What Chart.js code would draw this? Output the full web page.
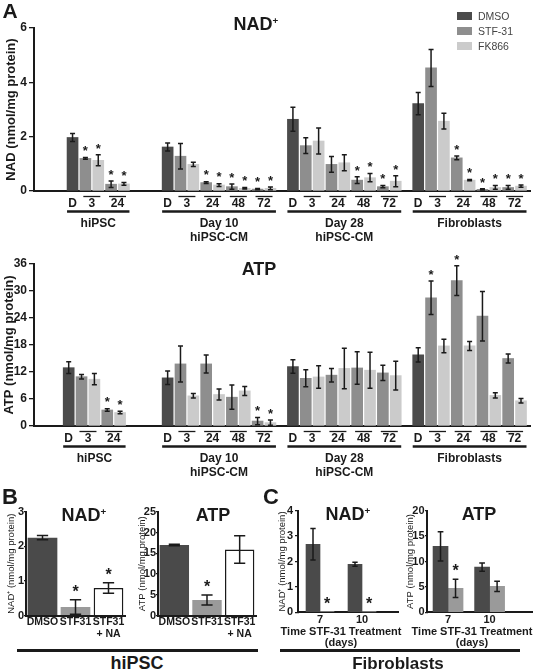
<!DOCTYPE html>
<html>
<head>
<meta charset="utf-8">
<script src="https://cdn.jsdelivr.net/npm/chart.js@4.4.0/dist/chart.umd.min.js"></script>
<style>
  body { margin: 0; background: #fff; font-family: "Liberation Sans", Arial, sans-serif; color: #1a1a1a; }
  #fig { position: relative; width: 535px; height: 670px; overflow: hidden; }
  canvas { position: absolute; }
  .c { position: absolute; transform: translate(-50%, -50%); font-weight: bold; white-space: nowrap; line-height: 1; }
  .sup { font-size: 0.55em; position: relative; top: -0.65em; }
  .rule { position: absolute; height: 3px; background: #1a1a1a; }
  .lg { position: absolute; left: 457px; height: 8px; font-size: 10.5px; color: #444; display: flex; align-items: center; white-space: nowrap; }
  .lg i { display: inline-block; width: 15px; height: 8px; margin-right: 6px; }
</style>
</head>
<body>
<div id="fig">
  <canvas id="aNad" width="535" height="250" style="left:0;top:0"></canvas>
  <canvas id="aAtp" width="535" height="240" style="left:0;top:250px"></canvas>
  <canvas id="bNad" width="130" height="146" style="left:0;top:500px"></canvas>
  <canvas id="bAtp" width="130" height="146" style="left:130px;top:500px"></canvas>
  <canvas id="cNad" width="130" height="127" style="left:270px;top:500px"></canvas>
  <canvas id="cAtp" width="135" height="127" style="left:400px;top:500px"></canvas>

  <div class="c" style="left:10px;top:10px;font-size:21px">A</div>
  <div class="c" style="left:256px;top:24px;font-size:18px">NAD<span class="sup">+</span></div>
  <div class="c" style="left:259px;top:269px;font-size:18px">ATP</div>
  <div class="lg" style="top:11.5px"><i style="background:#4b4b4b"></i>DMSO</div>
  <div class="lg" style="top:26.5px"><i style="background:#8e8e8e"></i>STF-31</div>
  <div class="lg" style="top:41.5px"><i style="background:#cbcbcb"></i>FK866</div>

  <div class="c" style="left:10px;top:497px;font-size:22px">B</div>
  <div class="c" style="left:84px;top:515px;font-size:18px">NAD<span class="sup">+</span></div>
  <div class="c" style="left:213px;top:515px;font-size:18px">ATP</div>
  <div class="rule" style="left:17px;width:241px;top:649px"></div>
  <div class="c" style="left:137px;top:663px;font-size:18px">hiPSC</div>

  <div class="c" style="left:271px;top:497px;font-size:22px">C</div>
  <div class="c" style="left:348px;top:514px;font-size:18px">NAD<span class="sup">+</span></div>
  <div class="c" style="left:479px;top:514px;font-size:18px">ATP</div>
  <div class="c" style="left:341px;top:631px;font-size:11px">Time STF-31 Treatment</div>
  <div class="c" style="left:341px;top:642px;font-size:11px">(days)</div>
  <div class="c" style="left:472px;top:631px;font-size:11px">Time STF-31 Treatment</div>
  <div class="c" style="left:472px;top:642px;font-size:11px">(days)</div>
  <div class="rule" style="left:280px;width:240px;top:649px"></div>
  <div class="c" style="left:398px;top:663px;font-size:17px">Fibroblasts</div>
</div>

<script>
/* === Panel A: per cell type, DMSO + STF-31/FK866 at 3, 24, 48, 72 h === */
const groupNames = [['hiPSC'], ['Day 10', 'hiPSC-CM'], ['Day 28', 'hiPSC-CM'], ['Fibroblasts']];
const dmsoTick = 'D';
const hourTicks = ['3', '24', '48', '72'];

// NAD (nmol/mg protein)
const nadDmso    = [1.97, 1.62, 2.64, 3.22];
const nadDmsoErr = [0.15, 0.15, 0.44, 0.41];
const nadStf     = [[1.20, 0.25], [1.28, 0.31, 0.16, 0.07], [1.67, 0.98, 0.40, 0.16], [4.53, 1.22, 0.06, 0.13]];
const nadStfErr  = [[0.03, 0.12], [0.47, 0.03, 0.10, 0.02], [0.29, 0.29, 0.12, 0.04], [0.68, 0.07, 0.02, 0.07]];
const nadFk      = [[1.13, 0.26], [0.98, 0.22, 0.10, 0.10], [1.84, 1.04, 0.49, 0.36], [2.57, 0.40, 0.13, 0.18]];
const nadFkErr   = [[0.20, 0.05], [0.08, 0.05, 0.03, 0.05], [0.48, 0.29, 0.15, 0.20], [0.29, 0.02, 0.07, 0.04]];
const nadStfSig  = [[1, 1], [0, 1, 1, 1], [0, 0, 1, 1], [0, 1, 1, 1]];
const nadFkSig   = [[1, 1], [0, 1, 1, 1], [0, 0, 1, 1], [0, 1, 1, 1]];

// ATP (nmol/mg protein)
const atpDmso    = [12.96, 10.7, 13.2, 15.8];
const atpDmsoErr = [1.3, 1.5, 1.5, 1.6];
const atpStf     = [[10.96, 3.56], [13.8, 13.8, 6.4, 1.1], [10.6, 11.3, 12.9, 11.8], [28.5, 32.3, 24.4, 15.0]];
const atpStfErr  = [[0.5, 0.3], [4.0, 2.0, 2.7, 0.8], [1.9, 1.5, 3.6, 1.7], [3.7, 3.3, 5.5, 1.0]];
const atpFk      = [[10.4, 3.0], [6.7, 7.0, 7.8, 0.75], [10.9, 12.8, 12.4, 11.2], [17.8, 17.8, 6.8, 5.6]];
const atpFkErr   = [[1.25, 0.3], [0.5, 1.2, 1.0, 0.6], [2.5, 4.5, 4.0, 3.2], [1.5, 1.0, 0.6, 0.5]];
const atpStfSig  = [[0, 1], [0, 0, 0, 1], [0, 0, 0, 0], [1, 1, 0, 0]];
const atpFkSig   = [[0, 1], [0, 0, 0, 1], [0, 0, 0, 0], [0, 0, 0, 0]];

/* === Panel B: hiPSC, DMSO / STF31 / STF31 + NA === */
const bLabels  = ['DMSO', 'STF31', ['STF31', '+ NA']];
const bNad     = [2.25, 0.25, 0.80];
const bNadErr  = [0.06, 0.21, 0.15];
const bNadSig  = [0, 1, 1];
const bAtp     = [17.0, 3.8, 15.9];
const bAtpErr  = [0.2, 1.2, 3.3];
const bAtpSig  = [0, 1, 0];

/* === Panel C: fibroblasts, days of STF-31 treatment === */
const cDays       = ['7', '10'];
const cNadDmso    = [2.68, 1.89];
const cNadDmsoErr = [0.62, 0.08];
const cNadStf     = [0.03, 0.01];
const cNadStfSig  = [1, 1];
const cAtpDmso    = [12.98, 8.9];
const cAtpDmsoErr = [2.9, 0.8];
const cAtpStf     = [4.7, 5.1];
const cAtpStfErr  = [1.8, 1.0];
const cAtpStfSig  = [1, 0];

const FONT = '"Liberation Sans", Arial, sans-serif';
const INK = '#1a1a1a';
const COL_DMSO = '#4b4b4b', COL_STF = '#8e8e8e', COL_FK = '#cbcbcb';
const COL_B_DARK = '#4a4a4a', COL_B_GRAY = '#9a9a9a';

Chart.defaults.font.family = FONT;
Chart.defaults.color = INK;
Chart.defaults.animation = false;
Chart.defaults.plugins.legend.display = false;
Chart.defaults.plugins.tooltip.enabled = false;

// error bars + significance stars, read from ds.errors / ds.sig
const errorBarPlugin = {
  id: 'errbars',
  afterDatasetsDraw(chart, args, opts) {
    const { ctx, scales: { y } } = chart;
    ctx.save();
    ctx.strokeStyle = INK;
    ctx.fillStyle = INK;
    ctx.lineWidth = opts.width || 1.5;
    ctx.textAlign = 'center';
    ctx.textBaseline = 'top';
    ctx.font = 'bold ' + opts.star + 'px ' + FONT;
    chart.data.datasets.forEach((ds, i) => {
      const meta = chart.getDatasetMeta(i);
      meta.data.forEach((bar, j) => {
        const raw = ds.data[j];
        const v = typeof raw === 'object' ? raw.y : raw;
        const e = ds.errors ? ds.errors[j] : 0;
        const top = y.getPixelForValue(v + e);
        if (e > 0) {
          const bot = y.getPixelForValue(Math.max(0, v - e));
          const cap = Math.max(5, bar.width * 0.38) / 2;
          ctx.beginPath();
          ctx.moveTo(bar.x, top); ctx.lineTo(bar.x, bot);
          ctx.moveTo(bar.x - cap, top); ctx.lineTo(bar.x + cap, top);
          ctx.moveTo(bar.x - cap, bot); ctx.lineTo(bar.x + cap, bot);
          ctx.stroke();
        }
        if (ds.sig && ds.sig[j]) ctx.fillText('*', bar.x, top - opts.star * 0.95);
      });
    });
    ctx.restore();
  }
};

// grouped x-axis of panel A: D / hour pairs, group rule and cell type
const groupAxisPlugin = {
  id: 'groupAxis',
  afterDraw(chart, args, opts) {
    const { ctx, chartArea, scales: { x } } = chart;
    const base = chartArea.bottom;
    const px = v => x.getPixelForValue(v);
    const line = (x1, y1, x2, y2, w) => {
      ctx.lineWidth = w;
      ctx.beginPath(); ctx.moveTo(x1, y1); ctx.lineTo(x2, y2); ctx.stroke();
    };
    ctx.save();
    ctx.fillStyle = INK;
    ctx.strokeStyle = INK;
    ctx.textAlign = 'center';
    ctx.textBaseline = 'middle';
    ctx.font = 'bold 12px ' + FONT;
    opts.starts.forEach((x0, gi) => {
      const n = opts.counts[gi];
      ctx.fillText(dmsoTick, px(x0), base + 12.5);
      for (let t = 0; t < n; t++) {
        const c = px(x0 + 1.5 + 2 * t);
        ctx.fillText(hourTicks[t], c, base + 12.5);
        line(c - 8.5, base + 5.5, c + 8.5, base + 5.5, 1.3);
      }
      const left = px(x0) - opts.bar / 2, right = px(x0 + 2 * n) + opts.bar / 2;
      line(left, base + 20.5, right, base + 20.5, 2.5);
      groupNames[gi].forEach((s, k) => ctx.fillText(s, (left + right) / 2, base + 33 + 13.5 * k));
    });
    ctx.restore();
  }
};

function yScale(max, step, title, o) {
  return {
    min: 0, max: max,
    ticks: { stepSize: step, padding: o.pad, color: INK, font: { size: o.tick, weight: 'bold' } },
    grid: { drawOnChartArea: false, drawTicks: true, tickLength: o.tl, color: INK, lineWidth: 1.3 },
    border: { display: true, color: INK, width: 2 },
    title: { display: true, text: title, color: INK, padding: { top: o.tp, bottom: 0 }, font: { size: o.ts, weight: o.tw } },
    afterFit: s => { s.width = o.w; }
  };
}

// bars of panel A: D at start, then STF/FK pairs
function panelA(id, dm, dmE, st, stE, fk, fkE, stSig, fkSig, starts, yMax, yStep, yTitle, titlePad, pad) {
  const sets = [
    { label: 'DMSO', color: COL_DMSO, data: [], errors: [], sig: [] },
    { label: 'STF-31', color: COL_STF, data: [], errors: [], sig: [] },
    { label: 'FK866', color: COL_FK, data: [], errors: [], sig: [] }
  ];
  groupNames.forEach((g, gi) => {
    const x0 = starts[gi];
    sets[0].data.push({ x: x0, y: dm[gi] }); sets[0].errors.push(dmE[gi]); sets[0].sig.push(0);
    st[gi].forEach((v, ti) => {
      sets[1].data.push({ x: x0 + 1 + 2 * ti, y: v });
      sets[1].errors.push(stE[gi][ti]); sets[1].sig.push(stSig[gi][ti]);
      sets[2].data.push({ x: x0 + 2 + 2 * ti, y: fk[gi][ti] });
      sets[2].errors.push(fkE[gi][ti]); sets[2].sig.push(fkSig[gi][ti]);
    });
  });
  return new Chart(document.getElementById(id), {
    type: 'bar',
    data: {
      datasets: sets.map(s => ({
        label: s.label, data: s.data, errors: s.errors, sig: s.sig,
        backgroundColor: s.color, grouped: false, barThickness: 11
      }))
    },
    options: {
      responsive: false,
      layout: { padding: pad },
      scales: {
        x: {
          type: 'linear', min: -3, max: 35.6, offset: false,
          ticks: { display: false }, grid: { display: false },
          border: { display: true, color: INK, width: 2 },
          afterFit: s => { s.height = 0; }
        },
        y: yScale(yMax, yStep, yTitle, { pad: 2, tick: 12, tl: 5, tp: titlePad, ts: 13, tw: 'bold', w: 34 })
      },
      plugins: {
        errbars: { star: 13, width: 1.5 },
        groupAxis: { starts: starts, counts: st.map(a => a.length), bar: 11 }
      }
    },
    plugins: [errorBarPlugin, groupAxisPlugin]
  });
}

panelA('aNad', nadDmso, nadDmsoErr, nadStf, nadStfErr, nadFk, nadFkErr, nadStfSig, nadFkSig,
  [0, 7.4, 17.15, 26.9], 6, 2, 'NAD (nmol/mg protein)', 4, { top: 28, right: 5, bottom: 59, left: 0 });
panelA('aAtp', atpDmso, atpDmsoErr, atpStf, atpStfErr, atpFk, atpFkErr, atpStfSig, atpFkSig,
  [-0.3, 7.4, 17.15, 26.9], 36, 6, 'ATP (nmol/mg protein)', 2, { top: 14, right: 5, bottom: 64, left: 0 });

// panel B
function panelB(id, vals, errs, sig, yMax, yStep, yTitle, yo, pad) {
  return new Chart(document.getElementById(id), {
    type: 'bar',
    data: {
      labels: bLabels,
      datasets: [{
        data: vals, errors: errs, sig: sig,
        backgroundColor: [COL_B_DARK, COL_B_GRAY, '#ffffff'],
        borderColor: [COL_B_DARK, COL_B_GRAY, INK],
        borderWidth: [0, 0, 1.5],
        barPercentage: 0.9, categoryPercentage: 1
      }]
    },
    options: {
      responsive: false,
      layout: { padding: pad },
      scales: {
        x: {
          ticks: { padding: 1, maxRotation: 0, autoSkip: false, color: INK, font: { size: 10.5, weight: 'bold', lineHeight: 1.1 } },
          grid: { display: false, drawTicks: false },
          border: { display: true, color: INK, width: 2 },
          afterFit: s => { s.height = 30.3; }
        },
        y: yScale(yMax, yStep, yTitle, yo)
      },
      plugins: { errbars: { star: 16, width: 1.5 } }
    },
    plugins: [errorBarPlugin]
  });
}

panelB('bNad', bNad, bNadErr, bNadSig, 3, 1, 'NAD\u207A (nmol/mg protein)',
  { pad: 0, tick: 11, tl: 2, tp: 5.3, ts: 9.5, tw: 'normal', w: 26 }, { top: 11.7, right: 5, bottom: 0, left: 0 });
panelB('bAtp', bAtp, bAtpErr, bAtpSig, 25, 5, 'ATP (nmol/mg protein)',
  { pad: 0, tick: 11, tl: 2, tp: 6.3, ts: 9.5, tw: 'normal', w: 28 }, { top: 11.7, right: 4, bottom: 0, left: 0 });

// panel C
function panelC(id, dm, dmE, st, stE, stSig, xMin, xMax, thick, yMax, yStep, yTitle, yo, pad) {
  const pts = v => cDays.map((d, i) => ({ x: i, y: v[i] }));
  return new Chart(document.getElementById(id), {
    type: 'bar',
    data: {
      datasets: [
        { label: 'DMSO', data: pts(dm), errors: dmE, backgroundColor: COL_B_DARK, barThickness: thick },
        { label: 'STF-31', data: pts(st), errors: stE, sig: stSig, backgroundColor: COL_B_GRAY, barThickness: thick }
      ]
    },
    options: {
      responsive: false,
      layout: { padding: pad },
      scales: {
        x: {
          type: 'linear', min: xMin, max: xMax, offset: false,
          afterBuildTicks: s => { s.ticks = cDays.map((d, i) => ({ value: i })); },
          ticks: { callback: v => cDays[v], padding: 1, maxRotation: 0, autoSkip: false, color: INK, font: { size: 11, weight: 'bold' } },
          grid: { display: false, drawTicks: false },
          border: { display: true, color: INK, width: 2 },
          afterFit: s => { s.height = 14; }
        },
        y: yScale(yMax, yStep, yTitle, yo)
      },
      plugins: { errbars: { star: 16, width: 1.5 } }
    },
    plugins: [errorBarPlugin]
  });
}

panelC('cNad', cNadDmso, cNadDmsoErr, cNadStf, [0, 0], cNadStfSig, -0.524, 1.857, 14, 4, 1,
  'NAD\u207A (nmol/mg protein)', { pad: 2, tick: 11, tl: 3, tp: 6.3, ts: 9.5, tw: 'normal', w: 28 },
  { top: 10.7, right: 2, bottom: 0.7, left: 0 });
panelC('cAtp', cAtpDmso, cAtpDmsoErr, cAtpStf, cAtpStfErr, cAtpStfSig, -0.506, 2.02, 15, 20, 5,
  'ATP (nmol/mg protein)', { pad: 0.5, tick: 11, tl: 2, tp: 4.3, ts: 9.5, tw: 'normal', w: 27 },
  { top: 10.7, right: 3, bottom: 0.7, left: 0 });
</script>
</body>
</html>
